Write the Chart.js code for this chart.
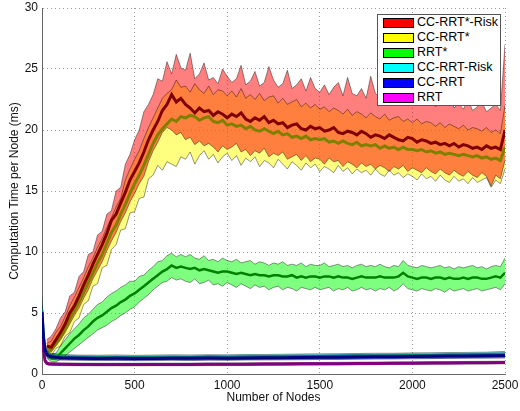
<!DOCTYPE html>
<html>
<head>
<meta charset="utf-8">
<script src="https://cdn.jsdelivr.net/npm/chart.js@4.4.1/dist/chart.umd.min.js"></script>
<style>
  html, body { margin: 0; padding: 0; background: #fff; }
  #wrap { position: relative; width: 520px; height: 411px; }
  #legend {
    position: absolute; left: 377px; top: 14px; width: 124px; height: 92px;
    box-sizing: border-box; border: 1px solid #555; background: #fff;
    font-family: 'Liberation Sans', Arial, sans-serif; font-size: 12.5px; color: #000;
  }
  .row { height: 15px; display: flex; align-items: center; }
  .sw { width: 31px; height: 10px; margin-left: 5px; box-sizing: border-box; border: 1px solid #000; }
  .lb { margin-left: 3px; white-space: nowrap; line-height: 15px; }
</style>
</head>
<body>
<div id="wrap">
  <canvas id="c" width="520" height="411"></canvas>
  <div id="legend"></div>
</div>
<script>
// ---- categories / sampling grids (number of nodes) ----
const nodes = [25,50,75,100,125,150,175,200,225,250,275,300,325,350,375,400,425,450,475,500,
  525,550,575,600,625,650,675,700,725,750,775,800,825,850,875,900,925,950,975,1000,
  1025,1050,1075,1100,1125,1150,1175,1200,1225,1250,1275,1300,1325,1350,1375,1400,1425,1450,1475,1500,
  1525,1550,1575,1600,1625,1650,1675,1700,1725,1750,1775,1800,1825,1850,1875,1900,1925,1950,1975,2000,
  2025,2050,2075,2100,2125,2150,2175,2200,2225,2250,2275,2300,2325,2350,2375,2400,2425,2450,2475,2500];
const nodesLow = [0,8,16,24,35,50,100,200,300,400,500,600,700,800,900,1000,1100,1200,1300,1400,1500,
  1600,1700,1800,1900,2000,2100,2200,2300,2400,2500];

// ---- series names and tick labels ----
const seriesNames = ['CC-RRT*-Risk','CC-RRT*','RRT*','CC-RRT-Risk','CC-RRT','RRT'];
const xTicks = [0,500,1000,1500,2000,2500];
const yTicks = [0,5,10,15,20,25,30];

// ---- CC-RRT*-Risk (mean, upper, lower) ----
const ccrrtStarRiskMean = [2.3,2.2,2.8,3.4,4.1,5.0,5.6,6.4,7.3,8.1,
  9.0,9.8,10.6,11.5,12.6,13.1,14.0,14.9,15.9,16.6,
  17.3,18.2,19.2,20.0,20.7,21.6,22.1,22.9,22.3,22.6,
  22.1,21.8,21.4,21.8,21.5,21.6,21.2,21.5,21.3,21.0,
  21.3,21.1,21.4,20.9,20.7,21.0,20.8,21.1,20.6,20.8,
  20.5,20.6,20.2,20.4,20.5,20.1,20.0,20.3,20.1,20.2,
  19.9,20.0,20.2,19.8,19.7,19.9,19.8,19.6,19.9,19.7,
  19.4,19.6,19.5,19.3,19.6,19.4,19.2,19.1,19.4,19.3,
  19.0,19.2,19.1,18.9,19.0,18.8,18.9,18.7,18.9,18.6,
  18.8,18.7,18.5,18.6,18.4,18.7,18.5,18.6,18.4,20.0];
const ccrrtStarRiskHi = [2.8,3.1,3.7,4.6,5.1,6.4,6.7,8.0,8.4,9.8,
  10.0,11.4,11.7,13.1,13.4,15.0,15.3,17.2,18.0,19.2,
  20.0,21.5,22.1,22.9,24.2,24.0,25.6,24.6,26.2,25.1,
  24.9,26.3,24.2,24.6,25.5,24.1,24.3,23.8,25.0,24.4,
  23.9,24.2,25.3,23.7,24.0,24.8,23.6,23.9,25.2,24.1,
  23.5,23.8,24.9,23.4,23.7,24.2,23.2,24.3,23.4,23.1,
  23.7,22.9,23.5,23.9,22.8,24.3,23.0,22.8,23.4,22.6,
  24.4,23.0,22.7,23.3,22.5,22.9,23.6,22.4,22.7,22.3,
  23.1,22.2,22.5,22.9,21.9,22.4,22.1,22.8,21.8,22.2,
  21.7,22.5,21.6,21.9,22.3,21.5,21.8,22.1,21.6,27.0];
const ccrrtStarRiskLo = [1.9,1.8,2.3,2.8,3.4,4.1,4.8,5.4,6.2,6.9,
  7.8,8.5,9.2,10.1,10.9,11.6,12.5,13.2,14.1,14.8,
  15.6,16.2,17.4,18.3,19.0,19.8,20.2,20.0,19.6,19.8,
  19.2,19.4,18.8,19.1,18.7,18.9,18.6,18.2,18.7,18.4,
  18.6,18.9,18.2,18.4,17.9,18.3,18.1,18.5,17.8,18.1,
  17.9,18.2,17.6,17.8,18.0,17.5,17.9,17.4,17.7,17.6,
  17.2,17.7,17.4,17.5,17.0,17.4,17.2,16.9,17.3,17.0,
  17.2,16.8,17.1,16.9,16.6,17.0,16.8,17.1,16.6,16.9,
  16.7,16.5,16.9,16.6,16.4,16.8,16.5,16.3,16.7,16.4,
  16.2,16.6,16.3,16.1,16.5,16.2,15.4,16.3,16.0,17.5];

// ---- CC-RRT* ----
const ccrrtStarMean = [2.0,2.0,2.5,3.0,3.7,4.5,5.2,5.9,6.7,7.5,
  8.3,9.1,9.8,10.7,11.6,12.2,13.1,13.9,14.8,15.6,
  16.3,17.1,18.0,18.9,19.6,20.1,20.5,20.9,20.7,21.1,
  21.0,21.2,21.1,20.8,21.0,21.1,20.7,20.6,20.8,20.4,
  20.5,20.3,20.4,20.1,20.3,20.0,19.9,20.1,19.9,19.7,
  19.9,19.6,19.7,19.4,19.5,19.3,19.5,19.2,19.3,19.2,
  19.3,19.0,19.1,18.9,19.1,18.9,18.8,19.0,18.7,18.8,
  18.7,18.8,18.5,18.7,18.5,18.6,18.4,18.6,18.4,18.4,
  18.3,18.4,18.2,18.3,18.1,18.2,18.0,18.1,18.0,17.9,
  18.0,17.9,17.8,17.9,17.7,17.8,17.6,17.7,17.5,18.6];
const ccrrtStarHi = [2.5,2.7,3.4,3.9,4.7,5.6,6.3,7.1,7.9,8.8,
  9.5,10.4,11.1,12.0,12.8,13.7,14.4,15.9,16.8,17.6,
  18.3,19.3,20.2,21.0,21.8,22.6,23.0,23.3,24.1,23.5,
  23.6,23.1,23.8,23.3,23.0,23.6,22.9,23.3,23.2,22.8,
  23.2,22.7,23.4,22.6,22.9,22.5,23.0,22.4,22.7,22.8,
  22.2,22.6,22.1,22.3,22.5,21.9,22.2,21.8,22.1,21.7,
  21.9,21.5,21.8,21.6,21.3,21.7,21.2,21.5,21.3,21.0,
  21.4,21.1,20.9,21.3,20.8,21.0,21.1,20.7,20.9,20.6,
  20.9,20.5,20.7,20.6,20.3,20.6,20.2,20.5,20.3,20.1,
  20.4,20.0,20.2,20.1,19.9,20.2,19.8,20.0,19.7,22.0];
const ccrrtStarLo = [1.7,1.5,2.1,2.3,3.1,3.4,4.3,4.6,5.7,6.0,
  7.2,7.4,8.7,8.9,10.2,10.6,11.8,11.9,13.2,13.3,
  14.4,14.5,16.0,16.3,17.1,16.7,17.4,17.2,17.0,17.8,
  17.6,18.2,17.2,17.9,18.3,17.6,18.0,17.3,17.8,18.1,
  17.5,17.9,17.1,17.7,17.4,17.8,17.0,17.5,17.3,16.9,
  17.6,17.2,16.8,17.4,17.1,16.7,17.3,16.9,17.2,16.6,
  17.0,16.8,16.5,17.1,16.6,16.9,16.4,16.8,16.5,16.7,
  16.3,16.8,16.4,16.2,16.7,16.3,16.5,16.1,16.4,16.2,
  15.9,16.4,16.0,16.2,15.8,16.3,15.9,15.7,16.2,15.8,
  16.0,15.6,16.1,15.7,15.9,16.1,15.3,15.9,15.6,16.8];

// ---- RRT* ----
const rrtStarMean = [1.6,1.3,1.3,1.7,2.1,2.5,2.9,3.2,3.6,3.9,
  4.3,4.6,4.8,5.1,5.4,5.6,5.9,6.1,6.4,6.6,
  6.9,7.2,7.5,7.8,8.1,8.4,8.6,8.9,8.7,8.8,
  8.7,8.6,8.7,8.5,8.6,8.5,8.4,8.3,8.4,8.4,
  8.3,8.2,8.3,8.2,8.1,8.2,8.1,8.1,8.0,8.1,
  8.1,8.0,8.0,8.1,7.9,8.0,7.9,8.0,8.0,7.9,
  8.0,8.0,7.9,8.0,7.9,7.9,7.8,7.9,8.0,7.9,
  7.9,7.9,8.0,7.9,7.9,7.9,8.0,8.3,8.0,7.9,
  7.8,7.9,7.9,7.8,7.9,7.9,7.8,7.9,7.8,7.8,
  7.9,7.8,7.9,7.9,7.8,7.8,7.9,8.0,7.9,8.3];
const rrtStarHi = [1.9,1.6,1.7,2.3,2.8,3.3,3.7,4.1,4.6,4.9,
  5.3,5.7,5.9,6.3,6.6,6.8,7.1,7.3,7.6,7.6,
  8.0,8.1,8.5,8.8,9.2,9.3,9.7,9.9,9.6,9.8,
  9.6,9.8,9.5,9.4,9.7,9.3,9.4,9.2,9.5,9.3,
  9.2,9.4,9.1,9.2,9.3,9.0,9.2,9.1,8.9,9.1,
  9.0,9.2,8.9,9.0,8.9,9.1,8.8,9.0,8.9,8.9,
  9.1,8.8,8.9,9.0,8.8,8.9,8.7,8.9,9.0,8.8,
  8.9,8.8,9.0,8.8,8.7,8.9,8.8,9.3,8.9,8.8,
  8.7,8.9,8.8,8.7,8.8,8.9,8.7,8.8,8.6,8.8,
  8.7,8.8,8.9,8.7,8.8,8.6,8.8,8.9,8.8,9.5];
const rrtStarLo = [1.3,1.0,1.0,1.2,1.5,1.8,2.1,2.4,2.7,3.0,
  3.3,3.6,3.8,4.0,4.3,4.5,4.8,5.0,5.3,5.5,
  5.9,6.2,6.5,6.9,7.2,7.5,7.6,7.9,7.7,7.8,
  7.6,7.5,7.8,7.4,7.5,7.7,7.3,7.4,7.2,7.5,
  7.3,7.1,7.4,7.2,7.0,7.3,7.1,7.2,6.9,7.1,
  7.2,6.9,7.1,7.0,6.8,7.1,7.0,6.9,7.1,6.9,
  7.0,7.1,6.8,7.0,6.9,7.1,6.8,6.9,7.1,6.9,
  7.0,6.8,7.0,6.9,7.1,6.8,7.0,7.4,7.0,6.9,
  6.8,7.0,6.9,6.8,7.0,6.9,6.7,7.0,6.8,6.9,
  7.0,6.8,6.9,7.0,6.8,6.9,7.0,7.1,6.9,7.4];

// ---- CC-RRT-Risk ----
const ccrrtRiskMean = [5.3,3.3,2.1,1.75,1.58,1.5,1.41,1.38,1.36,1.37,1.36,1.37,1.38,1.38,1.39,1.39,1.41,1.42,1.43,1.45,1.46,1.47,1.49,1.5,1.51,1.53,1.54,1.56,1.57,1.59,1.6];
const ccrrtRiskHi = [6.3,3.8,2.5,2.0,1.8,1.7,1.6,1.55,1.54,1.56,1.53,1.55,1.57,1.56,1.58,1.57,1.6,1.6,1.62,1.64,1.65,1.66,1.68,1.7,1.7,1.73,1.74,1.76,1.77,1.79,1.85];
const ccrrtRiskLo = [4.7,2.8,1.8,1.5,1.38,1.3,1.24,1.21,1.19,1.2,1.18,1.2,1.21,1.2,1.22,1.22,1.23,1.25,1.26,1.27,1.28,1.3,1.31,1.32,1.33,1.35,1.36,1.38,1.39,1.41,1.42];

// ---- CC-RRT ----
const ccrrtMean = [5.1,3.0,2.0,1.65,1.5,1.42,1.33,1.3,1.28,1.29,1.27,1.28,1.3,1.29,1.31,1.3,1.32,1.33,1.34,1.36,1.37,1.38,1.4,1.41,1.42,1.44,1.45,1.47,1.48,1.5,1.52];
const ccrrtHi = [5.6,3.4,2.3,1.9,1.72,1.62,1.5,1.47,1.45,1.46,1.44,1.45,1.48,1.46,1.5,1.47,1.5,1.51,1.52,1.55,1.55,1.57,1.6,1.6,1.61,1.64,1.64,1.67,1.67,1.7,1.75];
const ccrrtLo = [4.6,2.6,1.7,1.4,1.28,1.2,1.14,1.12,1.1,1.11,1.09,1.1,1.12,1.1,1.13,1.12,1.14,1.15,1.16,1.17,1.19,1.19,1.21,1.22,1.23,1.25,1.26,1.28,1.29,1.3,1.31];

// ---- RRT ----
const rrtMean = [3.7,2.0,1.1,0.9,0.84,0.81,0.79,0.78,0.77,0.77,0.77,0.78,0.78,0.78,0.79,0.79,0.8,0.81,0.82,0.83,0.84,0.85,0.86,0.87,0.88,0.89,0.9,0.91,0.92,0.93,0.94];
const rrtHi = [4.0,2.3,1.3,1.04,0.96,0.93,0.9,0.89,0.88,0.88,0.88,0.89,0.89,0.89,0.9,0.9,0.91,0.92,0.93,0.94,0.95,0.96,0.97,0.98,0.99,1.0,1.01,1.02,1.03,1.04,1.05];
const rrtLo = [3.4,1.7,0.95,0.78,0.72,0.7,0.69,0.68,0.67,0.67,0.67,0.68,0.68,0.68,0.69,0.69,0.7,0.71,0.72,0.73,0.74,0.75,0.76,0.77,0.78,0.79,0.8,0.81,0.82,0.83,0.84];

// ---- styles ----
const legendColors = ['#ff0000','#ffff00','#00ff00','#00ffff','#0000ff','#ff00ff'];
const bandColors = ['rgba(255,0,0,0.5)','rgba(255,255,0,0.5)','rgba(0,255,0,0.5)','rgba(0,255,255,0.5)','rgba(0,0,255,0.5)','rgba(255,0,255,0.5)'];
const meanColors = ['#800000','#808000','#008000','#008080','#000080','#800080'];

const pts = (xs, ys) => xs.map((x, i) => ({x: x, y: ys[i]}));

const groups = [
  {x: nodes, m: ccrrtStarRiskMean, hi: ccrrtStarRiskHi, lo: ccrrtStarRiskLo, w: 3},
  {x: nodes, m: ccrrtStarMean, hi: ccrrtStarHi, lo: ccrrtStarLo, w: 3},
  {x: nodes, m: rrtStarMean, hi: rrtStarHi, lo: rrtStarLo, w: 2.5},
  {x: nodesLow, m: ccrrtRiskMean, hi: ccrrtRiskHi, lo: ccrrtRiskLo, w: 2.5},
  {x: nodesLow, m: ccrrtMean, hi: ccrrtHi, lo: ccrrtLo, w: 3},
  {x: nodesLow, m: rrtMean, hi: rrtHi, lo: rrtLo, w: 3}
];

const edge = 'rgba(0,0,0,0.6)';
const datasets = [];
// mean lines on top (first dataset is drawn last)
[4,5,3,0,1,2].forEach(k => {
  const g = groups[k];
  datasets.push({label: seriesNames[k] + ' mean', data: pts(g.x, g.m), borderColor: meanColors[k],
    borderWidth: g.w, fill: false, pointRadius: 0, tension: 0});
});
// shaded bands
[0,1,2,3,4,5].forEach(k => {
  const g = groups[k];
  datasets.push({label: seriesNames[k] + ' upper', data: pts(g.x, g.hi), borderColor: edge, borderWidth: 0.7,
    backgroundColor: bandColors[k], fill: '+1', pointRadius: 0, tension: 0});
  datasets.push({label: seriesNames[k] + ' lower', data: pts(g.x, g.lo), borderColor: edge, borderWidth: 0.7,
    fill: false, pointRadius: 0, tension: 0});
});

Chart.defaults.font.family = "'Liberation Sans', Arial, Helvetica, sans-serif";
Chart.defaults.font.size = 12;
Chart.defaults.color = '#111';

new Chart(document.getElementById('c'), {
  type: 'line',
  data: {datasets: datasets},
  options: {
    responsive: false,
    animation: false,
    devicePixelRatio: 1,
    layout: {padding: {top: 8, right: 15, bottom: 0, left: 0}},
    plugins: {
      legend: {display: false},
      tooltip: {enabled: false},
      filler: {drawTime: 'beforeDatasetsDraw', propagate: false}
    },
    scales: {
      x: {
        type: 'linear', min: 0, max: 2500,
        afterBuildTicks: s => { s.ticks = xTicks.map(v => ({value: v})); },
        afterFit: s => { s.height = 37; s.paddingLeft = 0; s.paddingRight = 0; },
        ticks: {padding: 4, color: '#111', font: {size: 12}, callback: v => String(v)},
        grid: {color: '#9a9a9a', lineWidth: 1, drawTicks: false},
        border: {display: true, color: '#666', width: 1, dash: [1, 3]},
        title: {display: true, text: 'Number of Nodes', color: '#111', font: {size: 12}, padding: {top: 0, bottom: 6}}
      },
      y: {
        min: 0, max: 30,
        afterBuildTicks: s => { s.ticks = yTicks.map(v => ({value: v})); },
        afterFit: s => { s.width = 42; s.paddingTop = 0; s.paddingBottom = 0; },
        ticks: {padding: 4, color: '#111', font: {size: 12}, callback: v => String(v)},
        grid: {color: '#9a9a9a', lineWidth: 1, drawTicks: false},
        border: {display: true, color: '#666', width: 1, dash: [1, 3]},
        title: {display: true, text: 'Computation Time per Node (ms)', color: '#111', font: {size: 12}, padding: {top: 7, bottom: 0}}
      }
    }
  }
});

// legend (HTML, built from the series arrays)
const leg = document.getElementById('legend');
seriesNames.forEach((n, i) => {
  const r = document.createElement('div'); r.className = 'row';
  const s = document.createElement('div'); s.className = 'sw'; s.style.background = legendColors[i];
  const t = document.createElement('span'); t.className = 'lb'; t.textContent = n;
  r.appendChild(s); r.appendChild(t); leg.appendChild(r);
});
</script>
</body>
</html>
